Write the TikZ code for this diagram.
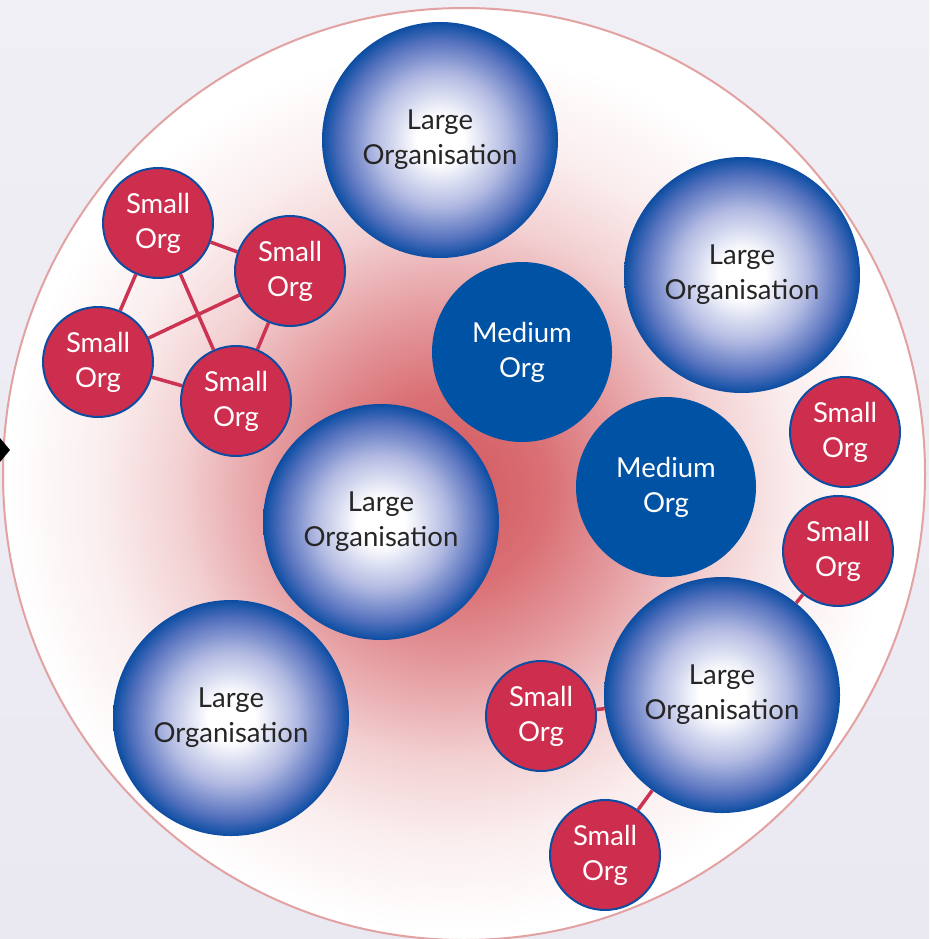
\documentclass[tikz,border=0pt]{standalone}
\usepackage{fontspec}
\setmainfont{Lato}
\usepackage{tikz}
\usetikzlibrary{
    calc,
    positioning
}
\definecolor{backlav}{HTML}{EAE8F1}
\definecolor{rimred}{HTML}{E3A2A2}
\definecolor{glowred}{HTML}{D3585E}
\definecolor{orgblue}{HTML}{0052A4}
\definecolor{edgeblue}{HTML}{0B4DA2}
\definecolor{orgred}{HTML}{CE2E4E}
\definecolor{tiered}{HTML}{CC3352}
% radius of a shaded circle = 25bp
\pgfdeclareradialshading{largeorgshade}{\pgfpointorigin}{color(0bp)=(white); color(5bp)=(white); color(14bp)=(rgb,255:red,178;green,186;blue,226); color(21bp)=(rgb,255:red,86;green,114;blue,190); color(25bp)=(edgeblue); color(50bp)=(edgeblue)}
\pgfdeclareradialshading{glowshade}{\pgfpointorigin}{color(0bp)=(glowred); color(5bp)=(glowred!86!white); color(9bp)=(glowred!62!white); color(12bp)=(glowred!42!white); color(14bp)=(glowred!28!white); color(18bp)=(glowred!11!white); color(23bp)=(white); color(50bp)=(white)}
\tikzset{
    largeorg/.style={circle, minimum size=236pt, inner sep=0pt, shading=largeorgshade, align=center, text=black!85},
    mediumorg/.style={circle, minimum size=180pt, inner sep=0pt, fill=orgblue, align=center, text=white},
    smallorg/.style={circle, minimum size=110pt, inner sep=0pt, fill=orgred, draw=edgeblue, line width=2pt, align=center, text=white},
    tie/.style={draw=tiered, line width=3.5pt}
}

\begin{document}
\begin{tikzpicture}[x=1pt, y=-1pt, font=\fontsize{27.5}{35}\selectfont]
    \useasboundingbox (0,0) rectangle (929,939);
    \shade[top color=backlav!70!white, bottom color=backlav] (0,0) rectangle (929,939);
    % the big circle with its red glow
    \begin{scope}
        \clip (464,474) ellipse (461 and 466);
        \fill[white] (0,0) rectangle (929,939);
        \shade[shading=glowshade] (450,490) circle (480);
    \end{scope}
    \draw[rimred, line width=2pt] (464,474) ellipse (461 and 466);
    \fill[black] (0,438) -- (10,450) -- (0,462) -- cycle;

    \node[largeorg] (lo1) at (440,140) {Large\\Organisation};
    \node[largeorg] (lo2) at (742,275) {Large\\Organisation};
    \node[largeorg] (lo3) at (381,522) {Large\\Organisation};
    \node[largeorg] (lo4) at (231,718) {Large\\Organisation};
    \node[largeorg] (lo5) at (722,695) {Large\\Organisation};

    \node[mediumorg] (mo1) at (522,352) {Medium\\Org};
    \node[mediumorg] (mo2) at (666,487) {Medium\\Org};

    \node[smallorg] (so1) at (158,223) {Small\\Org};
    \node[smallorg] (so2) at (290,271) {Small\\Org};
    \node[smallorg] (so3) at (98,362) {Small\\Org};
    \node[smallorg] (so4) at (236,401) {Small\\Org};
    \node[smallorg] (so5) at (845,432) {Small\\Org};
    \node[smallorg] (so6) at (838,551) {Small\\Org};
    \node[smallorg] (so7) at (541,716) {Small\\Org};
    \node[smallorg] (so8) at (605,855) {Small\\Org};

    \draw[tie] (so1) -- (so2) (so1) -- (so3) (so1) -- (so4)
               (so2) -- (so3) (so2) -- (so4) (so3) -- (so4);
    \draw[tie] (so6) -- (lo5) (so7) -- (lo5) (so8) -- (lo5);
\end{tikzpicture}
\end{document}
